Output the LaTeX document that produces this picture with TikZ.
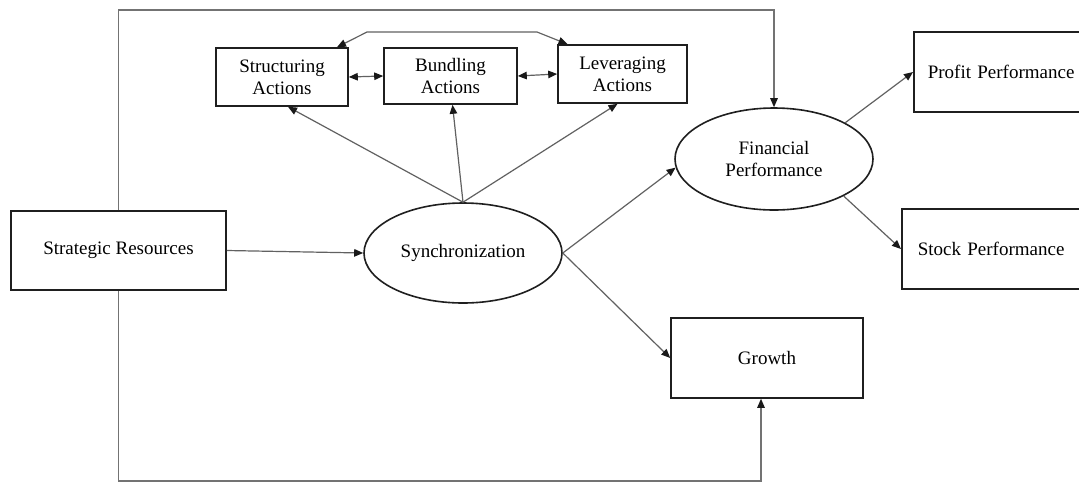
\documentclass[tikz,border=0pt]{standalone}
\usepackage{fontspec}
\setmainfont{Liberation Serif}
\usetikzlibrary{arrows.meta,shapes.geometric,calc}
\definecolor{boxc}{gray}{0.12}
\definecolor{linec}{gray}{0.38}
\definecolor{outc}{gray}{0.45}
\newcommand\lbl{\fontsize{19}{22}\selectfont}
\tikzset{tip/.tip={Triangle[length=9pt,width=7.5pt,color=black!90]}}
\begin{document}
\begin{tikzpicture}[x=1pt,y=-1pt,
  box/.style={draw=boxc, line width=1.6pt, rectangle, fill=white, align=center, inner sep=0pt, font=\lbl},
  oval/.style={ellipse, draw=boxc, line width=1.6pt, fill=white, align=center, inner sep=0pt, font=\lbl},
  conn/.style={draw=linec, line width=1.2pt, -tip},
  dconn/.style={draw=linec, line width=1.2pt, tip-tip},
  outer/.style={draw=outc, line width=1.2pt, -tip}]
\useasboundingbox (0,0) rectangle (1079,483);
\clip (0,0) rectangle (1079,483);
\fill[white] (0,0) rectangle (1079,483);

\node[box, minimum width=215pt, minimum height=79pt] (sr) at (118.5,250.5) {Strategic Resources};
\node[box, minimum width=132pt, minimum height=58pt] (sa) at (282,77) {Structuring\\Actions};
\node[box, minimum width=133pt, minimum height=56pt] (ba) at (450.5,76) {Bundling\\Actions};
\node[box, minimum width=129pt, minimum height=58pt] (la) at (622.5,74) {Leveraging\\Actions};
\node[oval, minimum width=198pt, minimum height=100pt] (sync) at (463,253) {Synchronization};
\node[oval, minimum width=198pt, minimum height=102pt] (fp) at (774,159) {Financial\\Performance};
\node[box, anchor=west, minimum height=80pt, text width=150pt, align=left, inner xsep=14pt] (pp) at (913,72) {Profit Performance};
\node[box, anchor=west, minimum height=80pt, text width=150pt, align=left, inner xsep=16pt] (stp) at (901,249) {Stock Performance};
\node[box, minimum width=192pt, minimum height=80pt] (gr) at (767,358) {Growth};

\coordinate (topy) at (0,10);
\coordinate (boty) at (0,481);
\coordinate (gin) at ([xshift=-6pt]gr.south);
\coordinate (t1) at (367,32);
\coordinate (t2) at (537,32);

\draw[outer] (sr.north) |- (fp.north |- topy) -- (fp.north);
\draw[outer] (sr.south) |- (gin |- boty) -- (gin);

\draw[conn] (sr.east) -- (sync.west);
\draw[conn] (sync.north) -- ([xshift=6pt]sa.south);
\draw[conn] (sync.north) -- ([xshift=2pt]ba.south);
\draw[conn] (sync.north) -- ([xshift=-5pt]la.south);
\draw[dconn] (sa.east) -- (ba.west);
\draw[dconn] (ba.east) -- (la.west);
\draw[dconn] ([xshift=55pt]sa.north) -- (t1) -- (t2) -- ([xshift=-55pt]la.north);
\draw[conn] (sync.east) -- (fp.185);
\draw[conn] (sync.east) -- (gr.west);
\draw[conn] (fp.27) -- (pp.west);
\draw[conn] (fp.-28) -- (stp.west);
\end{tikzpicture}
\end{document}
